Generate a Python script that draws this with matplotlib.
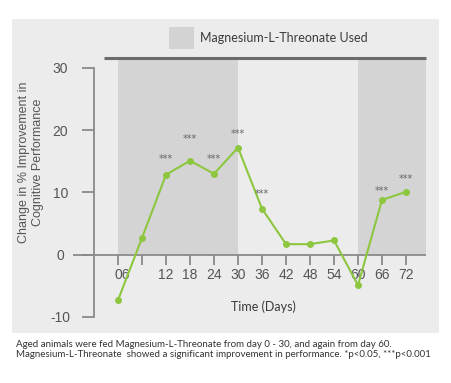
import matplotlib
matplotlib.use("Agg")
import matplotlib.pyplot as plt
from matplotlib.patches import Rectangle
import matplotlib.transforms as mtransforms

# ---- data ----
days = [0, 6, 12, 18, 24, 30, 36, 42, 48, 54, 60, 66, 72]
values = [-7.3, 2.7, 12.85, 15.1, 13.0, 17.2, 7.4, 1.7, 1.7, 2.3, -4.9, 8.8, 10.1]
xtick_labels = ["06", "", "12", "18", "24", "30", "36", "42", "48", "54", "60", "66", "72"]
yticks = [-10, 0, 10, 20, 30]
ytick_labels = ["-10", "0", "10", "20", "30"]
star_days = [12, 18, 24, 30, 36, 66, 72]
star_levels = [16.2, 19.4, 16.2, 20.2, 10.6, 11.1, 13.0]
treated_periods = [(0, 30), (60, 77)]

W, H = 451, 383
fig = plt.figure(figsize=(W / 100, H / 100), dpi=100)
fig.patch.set_facecolor("white")

def fx(px):
    return px / W

def fy(py):
    return 1 - py / H

# panel background
fig.patches.append(Rectangle((fx(12), fy(333)), fx(427), 314 / H, transform=fig.transFigure,
                             facecolor="#ececec", edgecolor="none", zorder=-10))

# legend
fig.patches.append(Rectangle((fx(169), fy(49)), fx(25), 22 / H, transform=fig.transFigure,
                             facecolor="#d3d3d3", edgecolor="none", zorder=-5))
fig.text(fx(200), fy(37.5), "Magnesium-L-Threonate Used", family="Lato", fontsize=9,
         color="#3a3a3a", ha="left", va="center")

ax = fig.add_axes([fx(94), fy(317), fx(332), 259 / H])
ax.set_zorder(1)
ax.set_facecolor("none")
ax.set_xlim(-6, 77)
ax.set_ylim(-10, 31.6)

for a, b in treated_periods:
    ax.add_patch(Rectangle((a, 0), b - a, 31.6, facecolor="#d4d4d4", edgecolor="none", zorder=1))

# spines
for s in ["right", "top"]:
    ax.spines[s].set_visible(False)
ax.spines["left"].set_bounds(-10, 30)
ax.spines["left"].set_color("#8a8a8a")
ax.spines["left"].set_linewidth(1.3)

# top dark line
ax.plot([-3.5, 77], [31.6, 31.6], color="#6b6b6b", lw=2.2, clip_on=False, zorder=3,
        solid_capstyle="butt")
# x axis line at zero
ax.plot([-11.25, 77], [0, 0], color="#8a8a8a", lw=1.3, clip_on=False, zorder=2,
        solid_capstyle="butt")

# y ticks
ax.set_yticks(yticks)
ax.set_yticklabels(ytick_labels, family="Liberation Sans", fontsize=10, color="#555555")
ax.tick_params(axis="y", length=8.6, width=1.3, color="#8a8a8a", pad=15.5)
for lab in ax.get_yticklabels():
    lab.set_ha("center")

# x ticks sit on the zero line
ax.spines["bottom"].set_position(("data", 0))
ax.spines["bottom"].set_color("none")
ax.set_xticks(days)
ax.set_xticklabels(xtick_labels, family="Liberation Sans", fontsize=10, color="#555555")
ax.tick_params(axis="x", length=7.2, width=1.3, color="#8a8a8a", pad=2.3, direction="out")
first = ax.get_xticklabels()[0]
first.set_transform(first.get_transform() + mtransforms.ScaledTranslation(4 / 100, 0, fig.dpi_scale_trans))

# series
ax.plot(days, values, color="#8dc63f", lw=1.5, marker="o", markersize=4, zorder=4, clip_on=False)

# significance stars
for d, lv in zip(star_days, star_levels):
    ax.annotate("***", (d, lv), xytext=(0, -6), textcoords="offset points", ha="center",
                va="baseline", fontsize=7, color="#666666", family="DejaVu Sans", zorder=5)

# labels
fig.text(fx(31), fy(162), "Change in % Improvement in\nCognitive Performance", rotation=90,
         family="Liberation Sans", fontsize=9, color="#555555", ha="center", va="center",
         linespacing=1.15)
fig.text(fx(263), fy(307), "Time (Days)", family="Lato", fontsize=9, color="#3a3a3a",
         ha="center", va="center")
fig.text(fx(16), fy(349.5),
         "Aged animals were fed Magnesium-L-Threonate from day 0 - 30, and again from day 60.\n"
         "Magnesium-L-Threonate  showed a significant improvement in performance. *p<0.05, ***p<0.001",
         family="Lato", fontsize=7.0, color="#333333", ha="left", va="center", linespacing=1.15)

fig.savefig("out.png", dpi=100)
